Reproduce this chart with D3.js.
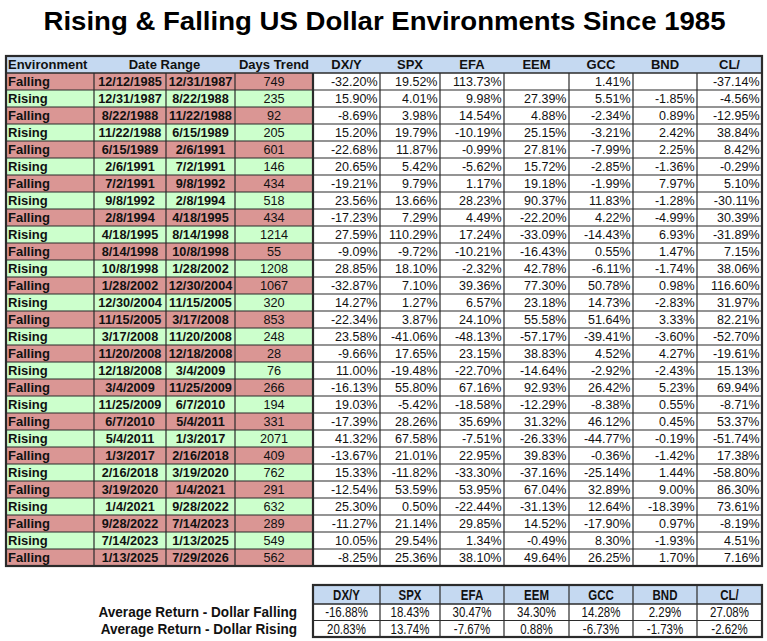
<!DOCTYPE html>
<html>
<head>
<meta charset="utf-8">
<script src="https://cdn.jsdelivr.net/npm/d3@7"></script>
<style>
  html, body { margin: 0; padding: 0; background: #fff; }
  svg { display: block; }
</style>
</head>
<body>
<svg id="chart" width="767" height="641"></svg>
<script>
// ---------------- DATA ----------------
const title = "Rising & Falling US Dollar Environments Since 1985";
const environments = ["Falling","Rising","Falling","Rising","Falling","Rising","Falling","Rising","Falling","Rising",
  "Falling","Rising","Falling","Rising","Falling","Rising","Falling","Rising","Falling","Rising",
  "Falling","Rising","Falling","Rising","Falling","Rising","Falling","Rising","Falling"];
const startDates = ["12/12/1985","12/31/1987","8/22/1988","11/22/1988","6/15/1989","2/6/1991","7/2/1991","9/8/1992","2/8/1994","4/18/1995",
  "8/14/1998","10/8/1998","1/28/2002","12/30/2004","11/15/2005","3/17/2008","11/20/2008","12/18/2008","3/4/2009","11/25/2009",
  "6/7/2010","5/4/2011","1/3/2017","2/16/2018","3/19/2020","1/4/2021","9/28/2022","7/14/2023","1/13/2025"];
const endDates = ["12/31/1987","8/22/1988","11/22/1988","6/15/1989","2/6/1991","7/2/1991","9/8/1992","2/8/1994","4/18/1995","8/14/1998",
  "10/8/1998","1/28/2002","12/30/2004","11/15/2005","3/17/2008","11/20/2008","12/18/2008","3/4/2009","11/25/2009","6/7/2010",
  "5/4/2011","1/3/2017","2/16/2018","3/19/2020","1/4/2021","9/28/2022","7/14/2023","1/13/2025","7/29/2026"];
const daysTrend = [749,235,92,205,601,146,434,518,434,1214,55,1208,1067,320,853,248,28,76,266,194,331,2071,409,762,291,632,289,549,562];

const assets = ["DX/Y","SPX","EFA","EEM","GCC","BND","CL/"];
const dxy = [-32.20,15.90,-8.69,15.20,-22.68,20.65,-19.21,23.56,-17.23,27.59,-9.09,28.85,-32.87,14.27,-22.34,23.58,-9.66,11.00,-16.13,19.03,-17.39,41.32,-13.67,15.33,-12.54,25.30,-11.27,10.05,-8.25];
const spx = [19.52,4.01,3.98,19.79,11.87,5.42,9.79,13.66,7.29,110.29,-9.72,18.10,7.10,1.27,3.87,-41.06,17.65,-19.48,55.80,-5.42,28.26,67.58,21.01,-11.82,53.59,0.50,21.14,29.54,25.36];
const efa = [113.73,9.98,14.54,-10.19,-0.99,-5.62,1.17,28.23,4.49,17.24,-10.21,-2.32,39.36,6.57,24.10,-48.13,23.15,-22.70,67.16,-18.58,35.69,-7.51,22.95,-33.30,53.95,-22.44,29.85,1.34,38.10];
const eem = [null,27.39,4.88,25.15,27.81,15.72,19.18,90.37,-22.20,-33.09,-16.43,42.78,77.30,23.18,55.58,-57.17,38.83,-14.64,92.93,-12.29,31.32,-26.33,39.83,-37.16,67.04,-31.13,14.52,-0.49,49.64];
const gcc = [1.41,5.51,-2.34,-3.21,-7.99,-2.85,-1.99,11.83,4.22,-14.43,0.55,-6.11,50.78,14.73,51.64,-39.41,4.52,-2.92,26.42,-8.38,46.12,-44.77,-0.36,-25.14,32.89,12.64,-17.90,8.30,26.25];
const bnd = [null,-1.85,0.89,2.42,2.25,-1.36,7.97,-1.28,-4.99,6.93,1.47,-1.74,0.98,-2.83,3.33,-3.60,4.27,-2.43,5.23,0.55,0.45,-0.19,-1.42,1.44,9.00,-18.39,0.97,-1.93,1.70];
const cl  = [-37.14,-4.56,-12.95,38.84,8.42,-0.29,5.10,-30.11,30.39,-31.89,7.15,38.06,116.60,31.97,82.21,-52.70,-19.61,15.13,69.94,-8.71,53.37,-51.74,17.38,-58.80,86.30,73.61,-8.19,4.51,7.16];

const avgLabels = ["Average Return - Dollar Falling","Average Return - Dollar Rising"];
const avgFalling = [-16.88,18.43,30.47,34.30,14.28,2.29,27.08];
const avgRising  = [20.83,13.74,-7.67,0.88,-6.73,-1.73,-2.62];

// ---------------- LAYOUT ----------------
const svg = d3.select("#chart");
const FONT = "'Liberation Sans', Arial, sans-serif";
const C = { header: "#c5d9f1", falling: "#da9694", rising: "#ccffcc", line: "#2b2b2b", text: "#111" };
const fmtLocale = d3.formatLocale({decimal: ".", thousands: ",", grouping: [3], currency: ["$", ""], minus: "-"});
const pct = v => v == null ? "" : fmtLocale.format(".2f")(v) + "%";
const NARROW_SCALE = 0.82;

const seriesList = [dxy, spx, efa, eem, gcc, bnd, cl];
const colKeys = ["env","start","end","days"].concat(assets);
const colWidths = [88, 72, 69, 78, 67, 60, 64, 65, 64, 64, 65];
const tableLeft = 6;
const edges = [tableLeft].concat(Array.from(d3.cumsum(colWidths), d => tableLeft + d));
const xL = d3.scaleOrdinal().domain(colKeys).range(edges.slice(0, -1));
const xR = d3.scaleOrdinal().domain(colKeys).range(edges.slice(1));
const tableRight = edges[edges.length - 1];

const headerTop = 56, headerH = 17;
const y = d3.scaleBand().domain(d3.range(environments.length)).range([headerTop + headerH, headerTop + headerH + 17 * environments.length]).padding(0);
const tableBottom = y.range()[1];

// Title
svg.append("text")
  .attr("x", (tableLeft + tableRight) / 2 + 0.5).attr("y", 29.5)
  .attr("text-anchor", "middle")
  .attr("font-family", FONT).attr("font-weight", "bold").attr("font-size", 25)
  .attr("textLength", 682).attr("lengthAdjust", "spacingAndGlyphs")
  .attr("fill", "#000")
  .text(title);

// Header band
svg.append("rect").attr("x", tableLeft).attr("y", headerTop).attr("width", tableRight - tableLeft).attr("height", headerH).attr("fill", C.header);
const hdr = svg.append("g").attr("font-family", FONT).attr("font-weight", "bold").attr("font-size", 13).attr("fill", C.text);
const hy = headerTop + headerH / 2 + 4.6;
hdr.append("text").attr("x", xL("env") + 2).attr("y", hy).text("Environment");
hdr.append("text").attr("x", (xL("start") + xR("end")) / 2).attr("y", hy).attr("text-anchor", "middle").text("Date Range");
hdr.append("text").attr("x", (xL("days") + xR("days")) / 2).attr("y", hy).attr("text-anchor", "middle").text("Days Trend");
assets.forEach(a => {
  hdr.append("text").attr("x", (xL(a) + xR(a)) / 2).attr("y", hy).attr("text-anchor", "middle").text(a);
});

// Rows
const rows = svg.append("g").selectAll("g").data(environments.map((e, i) => i)).join("g");
rows.append("rect")
  .attr("x", tableLeft).attr("y", i => y(i))
  .attr("width", xR("days") - tableLeft).attr("height", y.bandwidth())
  .attr("fill", i => environments[i] === "Falling" ? C.falling : C.rising);
rows.append("rect")
  .attr("x", xL(assets[0])).attr("y", i => y(i))
  .attr("width", tableRight - xL(assets[0])).attr("height", y.bandwidth())
  .attr("fill", "#fff");

const ty = i => y(i) + y.bandwidth() / 2 + 4.5;
rows.append("text").attr("x", xL("env") + 2).attr("y", ty)
  .attr("font-family", FONT).attr("font-weight", "bold").attr("font-size", 13).attr("fill", C.text)
  .text(i => environments[i]);
rows.append("text").attr("x", (xL("start") + xR("start")) / 2).attr("y", ty).attr("text-anchor", "middle")
  .attr("font-family", FONT).attr("font-weight", "bold").attr("font-size", 12.7).attr("fill", C.text)
  .text(i => startDates[i]);
rows.append("text").attr("x", (xL("end") + xR("end")) / 2).attr("y", ty).attr("text-anchor", "middle")
  .attr("font-family", FONT).attr("font-weight", "bold").attr("font-size", 12.7).attr("fill", C.text)
  .text(i => endDates[i]);
rows.append("text").attr("x", (xL("days") + xR("days")) / 2).attr("y", ty).attr("text-anchor", "middle")
  .attr("font-family", FONT).attr("font-size", 12.7).attr("fill", C.text)
  .text(i => daysTrend[i]);
assets.forEach((a, k) => {
  rows.append("text").attr("x", xR(a) - 2.5).attr("y", ty).attr("text-anchor", "end")
    .attr("font-family", FONT).attr("font-size", 12.5).attr("fill", C.text)
    .text(i => pct(seriesList[k][i]));
});

// Grid lines
const grid = svg.append("g").attr("stroke", C.line).attr("fill", "none");
environments.forEach((e, i) => {
  if (i === 0) return;
  grid.append("line").attr("x1", tableLeft).attr("x2", tableRight).attr("y1", y(i)).attr("y2", y(i)).attr("stroke-width", 1.2);
});
colKeys.slice(1).forEach(k => {
  grid.append("line").attr("x1", xL(k)).attr("x2", xL(k)).attr("y1", headerTop + headerH).attr("y2", tableBottom)
    .attr("stroke-width", k === assets[0] ? 2.2 : 1.2);
});
grid.append("line").attr("x1", tableLeft).attr("x2", tableRight).attr("y1", headerTop + headerH).attr("y2", headerTop + headerH).attr("stroke-width", 1.6);
grid.append("rect").attr("x", tableLeft).attr("y", headerTop).attr("width", tableRight - tableLeft).attr("height", tableBottom - headerTop).attr("stroke-width", 2.2);

// ---------------- AVERAGES TABLE ----------------
const bTop = 585, bHeadH = 19, bRowH = 16.5;
const avgSeries = [avgFalling, avgRising];
const yb = d3.scaleBand().domain([0, 1]).range([bTop + bHeadH, bTop + bHeadH + 2 * bRowH]);
const bLeft = xL(assets[0]);

svg.append("rect").attr("x", bLeft).attr("y", bTop).attr("width", tableRight - bLeft).attr("height", bHeadH).attr("fill", C.header);
svg.append("rect").attr("x", bLeft).attr("y", bTop + bHeadH).attr("width", tableRight - bLeft).attr("height", 2 * bRowH).attr("fill", "#fff");

// condensed text helper (simulates a narrow face)
function narrowText(sel, x, yy, anchor, size, bold, str, sx) {
  sel.append("text")
    .attr("transform", `translate(${x},${yy}) scale(${sx || NARROW_SCALE},1)`)
    .attr("text-anchor", anchor)
    .attr("font-family", FONT).attr("font-weight", bold ? "bold" : "normal").attr("font-size", size)
    .attr("fill", C.text)
    .text(str);
}
const bt = svg.append("g");
assets.forEach(a => {
  narrowText(bt, (xL(a) + xR(a)) / 2, bTop + bHeadH / 2 + 5, "middle", 14, true, a);
});
avgSeries.forEach((s, r) => {
  const yy = yb(r) + yb.bandwidth() / 2 + 5;
  narrowText(bt, 297, yy, "end", 15, true, avgLabels[r], 0.905);
  assets.forEach((a, k) => {
    narrowText(bt, (xL(a) + xR(a)) / 2, yy, "middle", 14, false, pct(s[k]));
  });
});
const bg = svg.append("g").attr("stroke", C.line).attr("fill", "none");
assets.slice(1).forEach(a => {
  bg.append("line").attr("x1", xL(a)).attr("x2", xL(a)).attr("y1", bTop).attr("y2", bTop + bHeadH + 2 * bRowH).attr("stroke-width", 1.2);
});
bg.append("line").attr("x1", bLeft).attr("x2", tableRight).attr("y1", yb(1)).attr("y2", yb(1)).attr("stroke-width", 1.2);
bg.append("line").attr("x1", bLeft).attr("x2", tableRight).attr("y1", bTop + bHeadH).attr("y2", bTop + bHeadH).attr("stroke-width", 1.4);
bg.append("rect").attr("x", bLeft).attr("y", bTop).attr("width", tableRight - bLeft).attr("height", bHeadH + 2 * bRowH).attr("stroke-width", 2.2);
</script>
</body>
</html>
